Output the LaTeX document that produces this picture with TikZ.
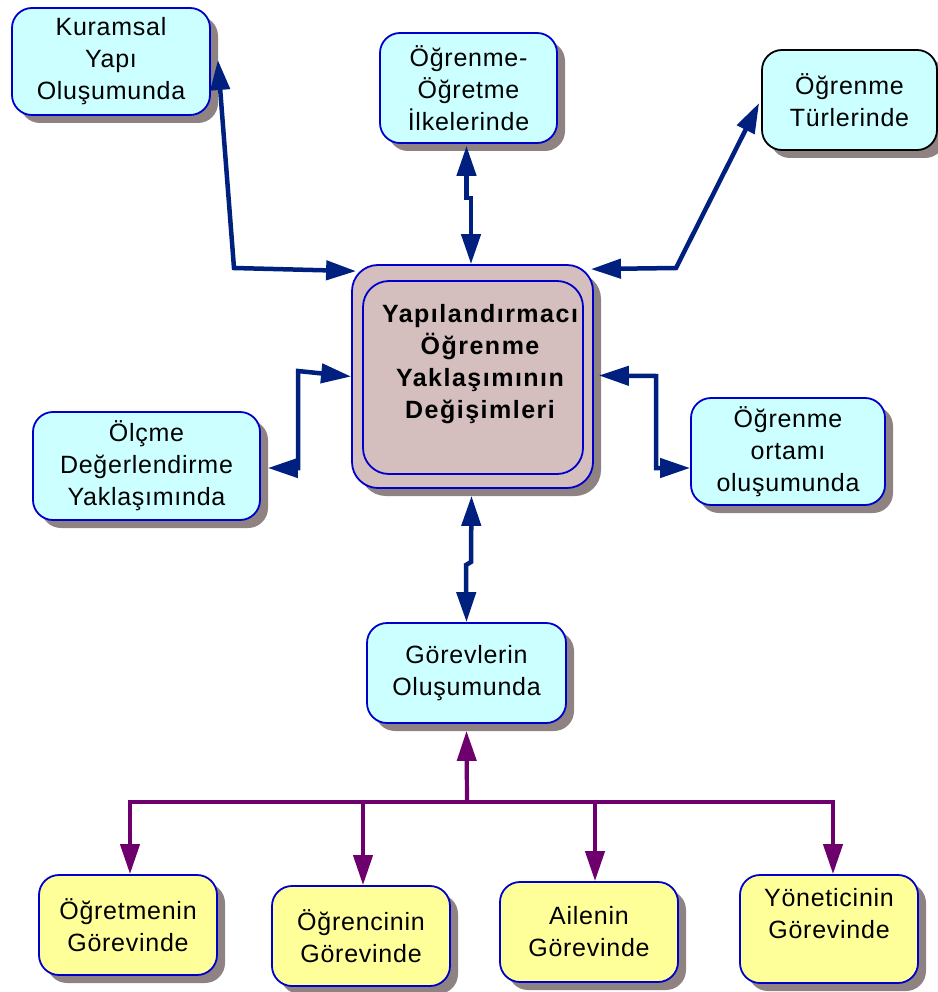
\documentclass[tikz,border=0pt]{standalone}
\usepackage{fontspec}
\setmainfont[LetterSpace=3]{Liberation Sans}
\usetikzlibrary{shadows,calc,arrows.meta}
\definecolor{cyfill}{HTML}{CCFFFF}
\definecolor{bborder}{HTML}{0000CC}
\definecolor{ylfill}{HTML}{FFFF99}
\definecolor{pkfill}{HTML}{D4BEBE}
\definecolor{shgray}{HTML}{8E8282}
\definecolor{navyc}{HTML}{002080}
\definecolor{purplec}{HTML}{6E006E}
\tikzset{
  box/.style={rectangle, draw=bborder, line width=1.8pt, rounded corners=20pt,
    align=center, inner sep=0pt, font=\fontsize{25}{32}\selectfont,
    drop shadow={shadow xshift=8pt, shadow yshift=-8pt, fill=shgray, opacity=1}},
  cbox/.style={box, fill=cyfill},
  ybox/.style={box, fill=ylfill},
  nvline/.style={draw=navyc, line width=4.5pt, line join=miter,
    {Triangle[length=30pt,width=19pt]}-{Triangle[length=30pt,width=19pt]}},
  puline/.style={draw=purplec, line width=4.2pt, line join=miter},
  putip/.style={-{Triangle[length=30pt,width=19pt]}}
}
\begin{document}
\begin{tikzpicture}[x=1pt,y=-1pt]
\useasboundingbox (0,0) rectangle (937,992);
% boxes
\node[cbox, minimum width=198pt, minimum height=107pt] (kur) at (111,61.5) {Kuramsal\\Yapı\\Oluşumunda};
\node[cbox, minimum width=177pt, minimum height=110pt] (ilk) at (468.5,88) {Öğrenme-\\Öğretme\\İlkelerinde};
\node[cbox, draw=black, minimum width=175pt, minimum height=100pt] (tur) at (849.5,100) {Öğrenme\\Türlerinde};
\node[box, fill=pkfill, rounded corners=26pt, minimum width=241pt, minimum height=223pt] (cout) at (472.5,376.5) {};
\node[rectangle, draw=bborder, fill=pkfill, line width=1.8pt, rounded corners=26pt, minimum width=220pt, minimum height=193pt] (cin) at (473,377.5) {};
\node[align=center, font=\fontsize{25}{32}\selectfont\bfseries\addfontfeatures{LetterSpace=6}] (ctext) at (480,364) {Yapılandırmacı\\Öğrenme\\Yaklaşımının\\Değişimleri};
\node[cbox, minimum width=227pt, minimum height=108pt] (olc) at (146.5,466) {Ölçme\\Değerlendirme\\Yaklaşımında};
\node[cbox, minimum width=194pt, minimum height=107pt] (ort) at (788,451.5) {Öğrenme\\ortamı\\oluşumunda};
\node[cbox, minimum width=199pt, minimum height=100pt] (gor) at (466.5,673) {Görevlerin\\Oluşumunda};
\node[ybox, minimum width=178pt, minimum height=100pt] (ogt) at (128,925) {Öğretmenin\\Görevinde};
\node[ybox, minimum width=178pt, minimum height=100pt] (ogc) at (361,936) {Öğrencinin\\Görevinde};
\node[ybox, minimum width=178pt, minimum height=100pt] (ail) at (589,932) {Ailenin\\Görevinde};
\node[ybox, minimum width=178pt, minimum height=108pt] (yon) at (829,929) {Yöneticinin\\Görevinde\\\mbox{}};
% navy connectors
\draw[nvline] ($(kur.east)+(7,-1.5)$) -- (234,268) -- ($(cout.north west)+(5,7)$);
\draw[nvline] ($(ilk.south)+(-2,2)$) -- (466.5,198) -- (471,198) -- (cout.north -| 471,0);
\draw[nvline] ($(cout.north east)+(-3,5)$) -- (676,268) -- ($(tur.west)+(-2,3)$);
\draw[nvline] ($(olc.east)+(7,2)$) -- (298,468) -- (298,371) -- (cout.west);
\draw[nvline] ($(cout.east)+(5,-1)$) -- (656,376) -- (656,468) -- ($(ort.west)+(0,16.5)$);
\draw[nvline] ($(cout.south)+(-1,7)$) -- (471,562) -- (466,565) -- (gor.north);
% purple connectors
\draw[puline, {Triangle[length=30pt,width=19pt]}-] ($(gor.south)+(0,7)$) -- (467,802);
\draw[puline, putip] (467,802) -| ($(ogt.north)+(2,0)$);
\draw[puline, putip] (467,802) -| ($(ogc.north)+(2,0)$);
\draw[puline, putip] (467,802) -| ($(ail.north)+(6,0)$);
\draw[puline, putip] (467,802) -| ($(yon.north)+(4,0)$);
\end{tikzpicture}
\end{document}
